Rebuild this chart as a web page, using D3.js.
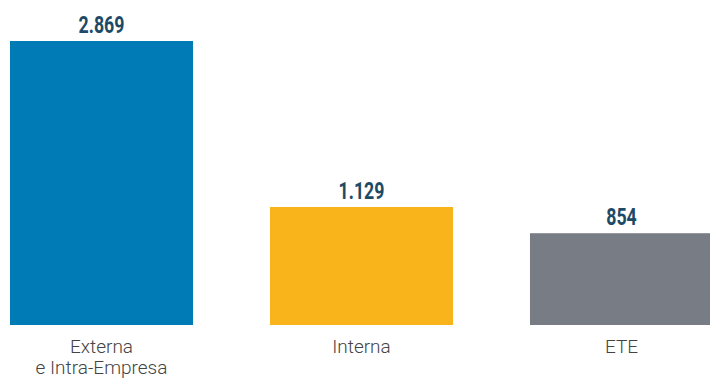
<!DOCTYPE html>
<html><head><meta charset="utf-8">
<script src="https://cdn.jsdelivr.net/npm/d3@7"></script>
<style>body{margin:0;background:#fff}svg{display:block}</style>
</head><body><svg id="c" width="710" height="379"></svg>
<script>
const categories = [["Externa","e Intra-Empresa"],["Interna"],["ETE"]];
const values = [2869, 1129, 854];
const valueLabels = ["2.869", "1.129", "854"];
const colors = ["#007bb5", "#f9b31b", "#787c84"];

const svg = d3.select("#c");
const x = d3.scaleBand().domain(d3.range(values.length)).range([10, 713]).paddingInner(0.296).paddingOuter(0);
const y = d3.scaleLinear().domain([-108, 2869]).range([325, 41]);

svg.selectAll("rect.bar").data(values).join("rect")
  .attr("class","bar")
  .attr("x",(d,i)=>x(i)).attr("width",x.bandwidth())
  .attr("y",d=>y(d)).attr("height",d=>y(-108)-y(d))
  .attr("fill",(d,i)=>colors[i]);

svg.selectAll("text.val").data(values).join("text")
  .attr("class","val")
  .attr("transform",(d,i)=>`translate(${x(i)+x.bandwidth()/2},${y(d)-8}) scale(0.74,1)`)
  .attr("text-anchor","middle")
  .attr("font-family","Roboto, sans-serif")
  .attr("font-weight","bold")
  .attr("font-size",24)
  .attr("fill","#1d4a66")
  .text((d,i)=>valueLabels[i]);

const cat = svg.selectAll("text.cat").data(categories).join("text")
  .attr("class","cat")
  .attr("x",(d,i)=>x(i)+x.bandwidth()/2)
  .attr("y",353)
  .attr("text-anchor","middle")
  .attr("font-family","Roboto, sans-serif")
  .attr("font-weight",300)
  .attr("font-size",19)
  .attr("fill","#444");
cat.selectAll("tspan").data(d=>d).join("tspan")
  .attr("x",function(){return d3.select(this.parentNode).attr("x");})
  .attr("dy",(d,i)=>i===0?0:21)
  .text(d=>d);
</script></body></html>
